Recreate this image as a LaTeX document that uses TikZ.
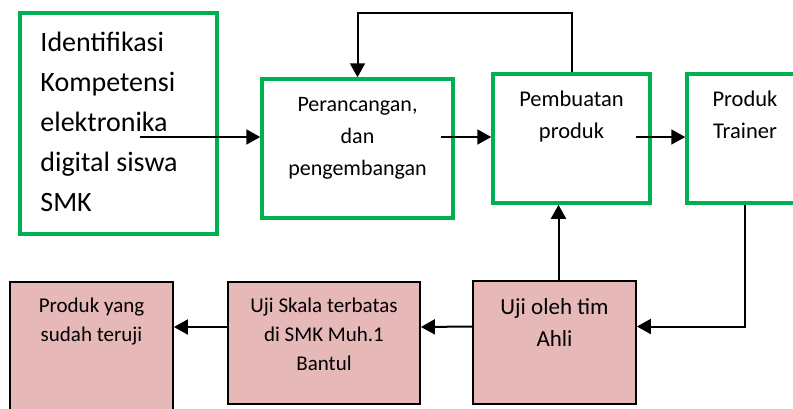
\documentclass[tikz,border=0pt]{standalone}
\usepackage{fontspec}
\setmainfont{Carlito}
\usetikzlibrary{arrows.meta,positioning,calc}

\definecolor{boxgreen}{RGB}{0,176,80}
\definecolor{boxpink}{RGB}{230,184,183}

\begin{document}
\begin{tikzpicture}[x=1pt,y=-1pt,>={Triangle[length=14pt,width=15pt]},
        greenbox/.style={draw=boxgreen,line width=3.5pt,inner sep=0pt},
        pinkbox/.style={draw=black,fill=boxpink,line width=1.8pt,inner sep=0pt},
        link/.style={->,line width=2pt},
        txt/.style={inner sep=0pt,align=center,anchor=base}]

  \useasboundingbox (0,0) rectangle (793,408);

  % top row
  \node[greenbox,minimum width=197pt,minimum height=221pt] (ident) at (118.5,123.5) {};
  \node[greenbox,minimum width=191pt,minimum height=139pt] (peran) at (357.5,148.5) {};
  \node[greenbox,minimum width=157pt,minimum height=129pt] (buat) at (571.5,138.5) {};
  \node[greenbox,minimum width=116pt,minimum height=129pt] (trainer) at (745,138.5) {};

  % bottom row
  \node[pinkbox,minimum width=163pt,minimum height=130pt] (teruji) at (91.5,347) {};
  \node[pinkbox,minimum width=192pt,minimum height=122pt] (skala) at (324,343) {};
  \node[pinkbox,minimum width=163pt,minimum height=123pt] (ahli) at (554.5,342.5) {};

  % texts (base = last line)
  \node[txt,align=left,anchor=base west,font=\fontsize{28}{40}\selectfont] (identtxt)
       at ([xshift=22pt,yshift=-200pt]ident.north west)
       {Identifikasi\\Kompetensi\\elektronika\\digital siswa\\SMK};
  \node[txt,font=\fontsize{22}{32}\selectfont] (perantxt) at ([yshift=-98pt]peran.north)
       {Perancangan,\\dan\\pengembangan};
  \node[txt,font=\fontsize{22.5}{32}\selectfont] (buattxt) at ([yshift=-66pt]buat.north)
       {Pembuatan\\produk};
  \node[txt,font=\fontsize{22.5}{32}\selectfont] (trainertxt) at ([yshift=-66pt]trainer.north)
       {Produk\\Trainer};
  \node[txt,font=\fontsize{21}{29}\selectfont] (terujitxt) at ([yshift=-60pt]teruji.north)
       {Produk yang\\sudah teruji};
  \node[txt,font=\fontsize{21}{29}\selectfont] (skalatxt) at ([yshift=-89pt]skala.north)
       {Uji Skala terbatas\\di SMK Muh.1\\Bantul};
  \node[txt,font=\fontsize{23}{32}\selectfont] (ahlitxt) at ([yshift=-66pt]ahli.north)
       {Uji oleh tim\\Ahli};

  \coordinate (identout) at (140,137);
  \coordinate (peranout) at (441,137);
  \coordinate (buatout) at (636,137);

  \draw[link] (identout) -- (identout -| peran.west);
  \draw[link] (peranout) -- (peranout -| buat.west);
  \draw[link] (buatout) -- (buatout -| trainer.west);
  \draw[link] (buat.north) -- ++(0,-59) -| (peran.north);
  \draw[link] ([xshift=4pt]ahli.north) -- ([xshift=4pt]ahli.north |- buat.south);
  \draw[link] (trainer.south) |- ([yshift=16pt]ahli.east);
  \draw[link] ([yshift=16pt]ahli.west) -- ([yshift=16pt]skala.east);
  \draw[link] ([yshift=16pt]skala.west) -- ([yshift=20pt]teruji.east);

\end{tikzpicture}
\end{document}
